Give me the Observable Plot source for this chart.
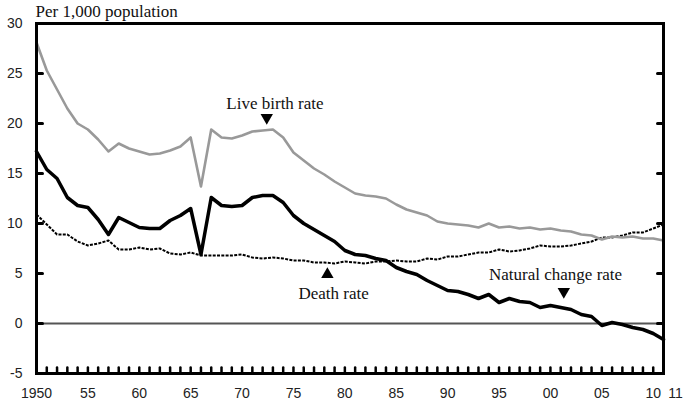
<!DOCTYPE html>
<html>
<head>
<meta charset="utf-8">
<script src="https://cdn.jsdelivr.net/npm/d3@7"></script>
<script src="https://cdn.jsdelivr.net/npm/@observablehq/plot@0.6"></script>
<style>
  html, body { margin: 0; padding: 0; background: #fff; }
</style>
</head>
<body>
<div id="chart"></div>
<script>
const years = d3.range(1950, 2012);
const birthRate = [28.1,25.3,23.4,21.5,20.0,19.4,18.4,17.2,18.0,17.5,
  17.2,16.9,17.0,17.3,17.7,18.6,13.7,19.4,18.6,18.5,
  18.8,19.2,19.3,19.4,18.6,17.1,16.3,15.5,14.9,14.2,
  13.6,13.0,12.8,12.7,12.5,11.9,11.4,11.1,10.8,10.2,
  10.0,9.9,9.8,9.6,10.0,9.6,9.7,9.5,9.6,9.4,
  9.5,9.3,9.2,8.9,8.8,8.4,8.7,8.6,8.7,8.5,8.5,8.3];
const deathRate = [10.9,9.9,8.9,8.9,8.2,7.8,8.0,8.3,7.4,7.4,
  7.6,7.4,7.5,7.0,6.9,7.1,6.8,6.8,6.8,6.8,
  6.9,6.6,6.5,6.6,6.5,6.3,6.3,6.1,6.1,6.0,
  6.2,6.1,6.0,6.2,6.2,6.3,6.2,6.2,6.5,6.4,
  6.7,6.7,6.9,7.1,7.1,7.4,7.2,7.3,7.5,7.8,
  7.7,7.7,7.8,8.0,8.2,8.6,8.6,8.8,9.1,9.1,9.5,9.9];
const naturalChange = [17.2,15.4,14.5,12.6,11.8,11.6,10.4,8.9,10.6,10.1,
  9.6,9.5,9.5,10.3,10.8,11.5,6.9,12.6,11.8,11.7,
  11.8,12.6,12.8,12.8,12.1,10.8,10.0,9.4,8.8,8.2,
  7.3,6.9,6.8,6.5,6.3,5.6,5.2,4.9,4.3,3.8,
  3.3,3.2,2.9,2.5,2.9,2.1,2.5,2.2,2.1,1.6,
  1.8,1.6,1.4,0.9,0.7,-0.2,0.1,-0.1,-0.4,-0.6,-1.0,-1.6];

const yTicks = [-5, 0, 5, 10, 15, 20, 25, 30];
const xTickYears = [1950,1955,1960,1965,1970,1975,1980,1985,1990,1995,2000,2005,2010];
const xTickLabels = ["1950","55","60","65","70","75","80","85","90","95","00","05","10"];
const lastYear = 2011;
const lastYearLabel = "11";

const labels = [
  {name: "Live birth rate", year: 1973.2, value: 22.0},
  {name: "Death rate", year: 1978.9, value: 3.0},
  {name: "Natural change rate", year: 2000.5, value: 4.9}
];
const arrows = [
  {year: 1972.4, value: 20.6, dir: "down"},
  {year: 1978.3, value: 4.9, dir: "up"},
  {year: 2001.3, value: 3.2, dir: "down"}
];

const birth = years.map((y, i) => ({year: y, value: birthRate[i]}));
const death = years.map((y, i) => ({year: y, value: deathRate[i]}));
const natural = years.map((y, i) => ({year: y, value: naturalChange[i]}));

const sans = "'Liberation Sans', Arial, sans-serif";
const serif = "'Liberation Serif', 'Times New Roman', serif";
const tickShape = {draw(ctx, l) { ctx.moveTo(0, 0); ctx.lineTo(0, -l); }};

const chart = Plot.plot({
  width: 683,
  height: 403,
  marginLeft: 36,
  marginRight: 20,
  marginTop: 23,
  marginBottom: 30,
  style: {fontFamily: sans, fontSize: "14px", color: "#222", background: "#fff"},
  x: {domain: [1950, 2011], axis: null},
  y: {domain: [-5, 30], axis: null},
  marks: [
    Plot.ruleY([0], {stroke: "#555", strokeWidth: 2}),
    Plot.line(death, {x: "year", y: "value", stroke: "#000", strokeWidth: 2, strokeDasharray: "3,1.3", strokeLinecap: "butt"}),
    Plot.line(birth, {x: "year", y: "value", stroke: "#999", strokeWidth: 2.6}),
    Plot.line(natural, {x: "year", y: "value", stroke: "#000", strokeWidth: 3.5}),
    Plot.frame({stroke: "#000", strokeWidth: 3}),
    // inward ticks
    Plot.vector(yTicks, {y: d => d, frameAnchor: "left", length: 6, rotate: 90, anchor: "start", shape: tickShape, stroke: "#000", strokeWidth: 3}),
    Plot.vector(yTicks, {y: d => d, frameAnchor: "right", length: 6, rotate: -90, anchor: "start", shape: tickShape, stroke: "#000", strokeWidth: 3}),
    Plot.vector(years.slice(1, -1), {x: d => d, frameAnchor: "bottom", length: 6, rotate: 0, anchor: "start", shape: tickShape, stroke: "#000", strokeWidth: 2.5}),
    // tick labels
    Plot.text(yTicks, {y: d => d, text: d => String(d), frameAnchor: "left", textAnchor: "end", lineAnchor: "middle", dx: -14, fill: "#222", fontSize: 14, fontFamily: sans}),
    Plot.text(xTickYears, {x: d => d, text: (d, i) => xTickLabels[i], frameAnchor: "bottom", lineAnchor: "middle", dy: 20, fill: "#222", fontSize: 14, fontFamily: sans}),
    Plot.text([lastYear], {x: d => d, text: () => lastYearLabel, frameAnchor: "bottom", lineAnchor: "middle", dy: 20, dx: 12, fill: "#222", fontSize: 14, fontFamily: sans}),
    // title
    Plot.text(["Per 1,000 population"], {frameAnchor: "top-left", textAnchor: "start", lineAnchor: "middle", dx: -1, dy: -12, fill: "#111", fontSize: 17, fontFamily: serif}),
    // annotations
    Plot.text(labels, {x: "year", y: "value", text: "name", fill: "#111", fontSize: 17, fontFamily: serif}),
    Plot.dot(arrows, {x: "year", y: "value", symbol: "triangle", r: 4.6, fill: "#000", stroke: null, rotate: d => d.dir === "down" ? 180 : 0})
  ]
});
document.getElementById("chart").appendChild(chart);
</script>
</body>
</html>
